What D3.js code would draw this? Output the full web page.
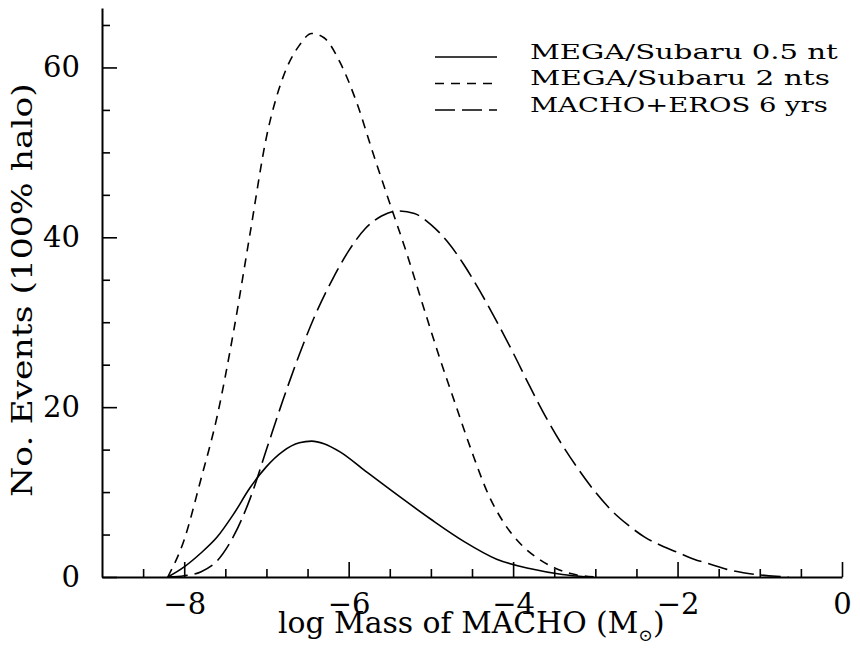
<!DOCTYPE html>
<html>
<head>
<meta charset="utf-8">
<script src="https://cdn.jsdelivr.net/npm/d3@7"></script>
<style>
    body { margin: 0; background: #fff; }
    svg { display: block; }
    text { font-family: "DejaVu Serif", serif; fill: #000; }
    .domain { stroke: #000; stroke-width: 2; }
    .tick line { stroke: #000; stroke-width: 1.6; }
</style>
</head>
<body>
<div id="chart"></div>
<script>
    "use strict";

    // log mass values and event counts
    var solidX = [-8.2, -8.0, -7.8, -7.6, -7.4, -7.2, -7.0, -6.8, -6.6, -6.45, -6.3, -6.1, -5.8, -5.4, -5.0, -4.6, -4.2, -3.8, -3.4, -3.1];
    var solidY = [0, 1.2, 2.8, 4.7, 7.4, 10.5, 13.0, 14.8, 15.8, 16.0, 15.7, 14.7, 12.5, 9.6, 6.8, 4.2, 2.1, 1.0, 0.3, 0];

    var shortX = [-8.2, -8.0, -7.8, -7.6, -7.4, -7.2, -7.0, -6.8, -6.6, -6.45, -6.3, -6.1, -5.9, -5.7, -5.5, -5.3, -5.1, -4.9, -4.7, -4.5, -4.3, -4.1, -3.9, -3.7, -3.5, -3.3, -3.0];
    var shortY = [0, 4.4, 11.4, 18.9, 28.9, 40.4, 51.8, 58.8, 62.6, 64.0, 63.5, 60.5, 55.8, 49.8, 44.0, 38.3, 32.1, 26.0, 20.3, 14.7, 9.7, 6.2, 3.8, 2.2, 1.1, 0.4, 0];

    var longX = [-8.2, -8.0, -7.8, -7.6, -7.4, -7.2, -7.0, -6.8, -6.6, -6.4, -6.2, -6.0, -5.8, -5.6, -5.4, -5.2, -5.0, -4.8, -4.6, -4.4, -4.2, -4.0, -3.8, -3.6, -3.4, -3.2, -3.0, -2.8, -2.6, -2.4, -2.2, -2.0, -1.8, -1.6, -1.4, -1.2, -1.0, -0.8, -0.65];
    var longY = [0, 0.15, 0.6, 1.9, 4.8, 9.2, 15.0, 20.8, 26.2, 31.0, 35.0, 38.4, 41.0, 42.5, 43.1, 42.8, 41.5, 39.5, 36.8, 33.6, 30.1, 26.4, 22.5, 18.8, 15.5, 12.6, 10.0, 7.8, 6.1, 4.7, 3.7, 2.9, 2.1, 1.5, 0.9, 0.5, 0.25, 0.08, 0];

    var seriesNames = ["MEGA/Subaru 0.5 nt", "MEGA/Subaru 2 nts", "MACHO+EROS 6 yrs"];
    var seriesDash = ["none", "9,7", "20,7"];

    var xMajorTicks = [-8, -6, -4, -2, 0];
    var xTickLabels = ["\u22128", "\u22126", "\u22124", "\u22122", "0"];
    var xMinorTicks = d3.range(-8.5, 0, 0.5).filter(function(v) { return v % 2 !== 0; });
    var yMajorTicks = [0, 20, 40, 60];
    var yTickLabels = ["0", "20", "40", "60"];
    var yMinorTicks = [5, 10, 15, 25, 30, 35, 45, 50, 55, 65];

    var width = 860, height = 648;
    var margin = { left: 102, right: 18, top: 8, bottom: 71 };

    var svg = d3.select("#chart")
        .append("svg")
        .attr("width", width)
        .attr("height", height);

    var x = d3.scaleLinear().domain([-9, 0]).range([margin.left, width - margin.right]);
    var y = d3.scaleLinear().domain([0, 67]).range([height - margin.bottom, margin.top]);

    // minor ticks first, majors and labels on top
    svg.append("g")
        .attr("transform", "translate(0," + y(0) + ")")
        .call(d3.axisBottom(x).tickValues(xMinorTicks).tickSize(-8).tickFormat(""))
        .select(".domain").remove();
    svg.append("g")
        .attr("transform", "translate(" + x(-9) + ",0)")
        .call(d3.axisLeft(y).tickValues(yMinorTicks).tickSize(-8).tickFormat(""))
        .select(".domain").remove();

    var xAxis = svg.append("g")
        .attr("transform", "translate(0," + y(0) + ")")
        .call(d3.axisBottom(x)
            .tickValues(xMajorTicks)
            .tickSizeInner(-15)
            .tickSizeOuter(0)
            .tickPadding(16)
            .tickFormat(function(d, i) { return xTickLabels[i]; }));
    xAxis.selectAll("text").attr("font-size", 29).attr("font-family", "DejaVu Serif");

    var yAxis = svg.append("g")
        .attr("transform", "translate(" + x(-9) + ",0)")
        .call(d3.axisLeft(y)
            .tickValues(yMajorTicks)
            .tickSizeInner(-15)
            .tickSizeOuter(0)
            .tickPadding(22)
            .tickFormat(function(d, i) { return yTickLabels[i]; }));
    yAxis.selectAll("text").attr("font-size", 29).attr("font-family", "DejaVu Serif");

    var line = d3.line()
        .x(function(d) { return x(d[0]); })
        .y(function(d) { return y(d[1]); })
        .curve(d3.curveMonotoneX);

    var series = [d3.zip(solidX, solidY), d3.zip(shortX, shortY), d3.zip(longX, longY)];

    svg.append("g")
        .selectAll("path")
        .data(series)
        .enter()
        .append("path")
        .attr("d", line)
        .attr("fill", "none")
        .attr("stroke", "#000")
        .attr("stroke-width", 1.6)
        .attr("stroke-dasharray", function(d, i) { return seriesDash[i]; });

    // stretch a text sideways so it covers the given length
    function fitWidth(sel, x0, y0, rot, target) {
        var w = sel.node().getComputedTextLength();
        sel.attr("transform", "translate(" + x0 + "," + y0 + ")" +
            (rot ? " rotate(" + rot + ")" : "") +
            " scale(" + (target / w).toFixed(3) + ",1)");
    }

    var legendRowY = [57, 83.5, 110];
    var legendTextLen = [308, 300, 298];
    var legend = svg.append("g");
    seriesNames.forEach(function(name, i) {
        legend.append("line")
            .attr("x1", 435).attr("x2", 497)
            .attr("y1", legendRowY[i]).attr("y2", legendRowY[i])
            .attr("stroke", "#000")
            .attr("stroke-width", 1.6)
            .attr("stroke-dasharray", seriesDash[i]);
        var t = legend.append("text")
            .attr("font-size", 21)
            .text(name);
        fitWidth(t, 530, legendRowY[i] + 1.5, 0, legendTextLen[i]);
    });

    var xTitle = svg.append("text")
        .attr("font-size", 29);
    xTitle.append("tspan").text("log Mass of MACHO  (M");
    xTitle.append("tspan").attr("font-size", 17).attr("dy", 8).text("\u2299");
    xTitle.append("tspan").attr("dy", -8).text(")");
    fitWidth(xTitle, 278, 633, 0, 387);

    var yTitle = svg.append("text")
        .attr("font-size", 27)
        .text("No. Events (100% halo)");
    fitWidth(yTitle, 32, 497, -90, 414);
</script>
</body>
</html>
